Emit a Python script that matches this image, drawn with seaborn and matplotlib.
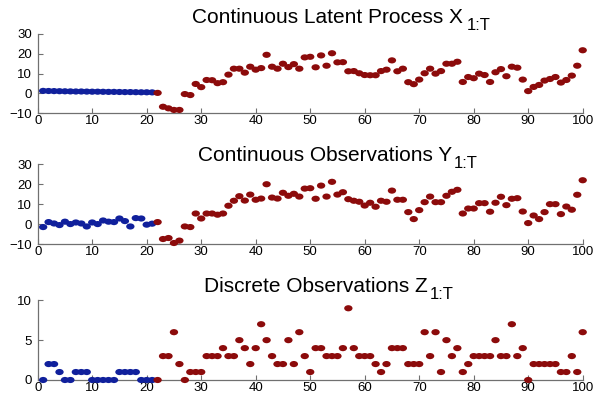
import numpy as np
import pandas as pd
import matplotlib
matplotlib.use('Agg')
import matplotlib.pyplot as plt
import seaborn as sns
from matplotlib.path import Path

# time index and regime switch (first 21 steps blue, rest red)
t = list(range(1, 101))
n_blue = 21

latent_x = [1.3, 1.25, 1.2, 1.15, 1.1, 1.05, 1.0, 1.0, 0.95, 0.9, 0.9, 0.85, 0.8, 0.8, 0.75, 0.7, 0.7, 0.65, 0.6, 0.6, 0.55,
            0.3, -6.7, -7.5, -8.3, -8.3, -0.3, -0.8, 4.8, 3.2, 6.8, 6.7, 5.2, 5.7, 9.5, 12.5, 12.5, 10.5, 13.5, 12.0,
            12.8, 19.5, 13.5, 12.5, 15.0, 13.3, 14.8, 12.5, 18.2, 18.5, 13.2, 19.2, 14.0, 20.3, 15.7, 15.8, 11.2, 11.3, 10.2, 9.3,
            9.2, 9.2, 11.3, 12.0, 16.7, 11.2, 12.5, 5.7, 4.7, 7.0, 10.2, 12.5, 10.0, 11.3, 15.0, 15.0, 16.0, 5.8, 8.3, 7.7,
            10.0, 9.3, 5.8, 10.7, 12.3, 8.7, 13.5, 13.0, 7.0, 1.2, 3.3, 4.3, 6.5, 7.3, 8.3, 5.5, 6.8, 9.0, 14.0, 21.8]

obs_y = [-1.5, 1.0, 0.3, -0.5, 1.2, 0.0, 0.8, 0.3, -1.2, 0.8, 0.0, 1.8, 1.2, 1.0, 2.8, 1.5, -1.2, 3.0, 2.8, -0.3, 0.2,
         1.0, -7.5, -7.0, -9.5, -8.3, -1.2, -1.5, 5.3, 2.8, 5.3, 5.3, 4.7, 5.3, 9.2, 11.7, 14.0, 11.8, 14.8, 12.2,
         12.8, 20.0, 13.3, 12.8, 15.7, 14.2, 15.2, 13.8, 17.8, 18.0, 12.7, 19.3, 13.8, 21.2, 14.8, 16.0, 12.5, 11.7, 11.2, 9.3,
         10.7, 8.7, 11.7, 11.2, 16.8, 12.2, 12.2, 6.0, 2.5, 7.0, 11.0, 13.8, 11.0, 11.0, 14.2, 16.2, 17.2, 5.3, 7.8, 7.8,
         10.5, 10.5, 6.2, 10.7, 13.7, 9.5, 12.7, 13.0, 6.3, 0.5, 4.3, 2.5, 6.0, 10.0, 10.0, 5.0, 8.8, 7.2, 14.7, 22.0]

disc_z = [0, 2, 2, 1, 0, 0, 1, 1, 1, 0, 0, 0, 0, 0, 1, 1, 1, 1, 0, 0, 0,
          0, 3, 3, 6, 2, 0, 1, 1, 1, 3, 3, 3, 4, 3, 3, 5, 4, 2, 4,
          7, 5, 3, 2, 2, 5, 2, 6, 3, 1, 4, 4, 3, 3, 3, 4, 9, 4, 3, 3,
          3, 2, 1, 2, 4, 4, 4, 2, 2, 2, 6, 3, 6, 1, 5, 3, 4, 1, 2, 3,
          3, 3, 3, 5, 3, 3, 7, 3, 4, 0, 2, 2, 2, 2, 2, 1, 1, 3, 1, 6]

regime = ['a'] * n_blue + ['b'] * (100 - n_blue)
colors = {'a': '#10209c', 'b': '#8c0b0b'}

# slightly wide elliptical dot like the original
circ = Path.unit_circle()
dot = Path(circ.vertices * np.array([1.0, 0.74]), circ.codes)

W, H = 601, 403
fig = plt.figure(figsize=(W / 100, H / 100), dpi=100)

def px_box(left, right, top, bottom):
    return [left / W, 1 - bottom / H, (right - left) / W, (bottom - top) / H]

panels = [
    (latent_x, (34, 113.3), (-10, 30), [-10, 0, 10, 20, 30]),
    (obs_y, (164.3, 244), (-10, 30), [-10, 0, 10, 20, 30]),
    (disc_z, (300.3, 380), (0, 10), [0, 5, 10]),
]

for vals, (top, bot), ylim, yt in panels:
    ax = fig.add_axes(px_box(37.7, 582.7, top, bot))
    df = pd.DataFrame({'t': t, 'v': vals, 'regime': regime})
    sns.scatterplot(data=df, x='t', y='v', hue='regime', palette=colors, marker=dot,
                    s=36, linewidth=0, legend=False, ax=ax, clip_on=False, zorder=3)
    ax.set_xlim(0, 100)
    ax.set_ylim(*ylim)
    ax.set_xticks(range(0, 101, 10))
    ax.set_yticks(yt)
    ax.set_yticklabels(['\u2212' + str(-v) if v < 0 else str(v) for v in yt])
    ax.set_xlabel('')
    ax.set_ylabel('')
    for s in ['top', 'right']:
        ax.spines[s].set_visible(False)
    for s in ['left', 'bottom']:
        ax.spines[s].set_color('#707070')
        ax.spines[s].set_linewidth(0.9)
    ax.tick_params(direction='in', length=3.5, width=0.8, color='#707070', labelsize=9.5)
    ax.tick_params(axis='x', pad=1.5)
    ax.tick_params(axis='y', pad=4)
    for lab in ax.get_xticklabels() + ax.get_yticklabels():
        lab.set_fontfamily('Liberation Sans')
    ax.patch.set_alpha(0)

# titles: main text ends at the letter, subscript set a bit lower
titles = [
    ('Continuous Latent Process X', 463, 23.3, 467),
    ('Continuous Observations Y', 452, 160.7, 454),
    ('Discrete Observations Z', 428, 292.3, 430),
]
for txt, xend, base, xsub in titles:
    fig.text(xend / W, 1 - base / H, txt, ha='right', va='baseline',
             fontsize=15, family='Liberation Sans')
    fig.text(xsub / W, 1 - (base + 7) / H, '1:T', ha='left', va='baseline',
             fontsize=12, family='Liberation Sans')

fig.savefig('out.png', dpi=100)
